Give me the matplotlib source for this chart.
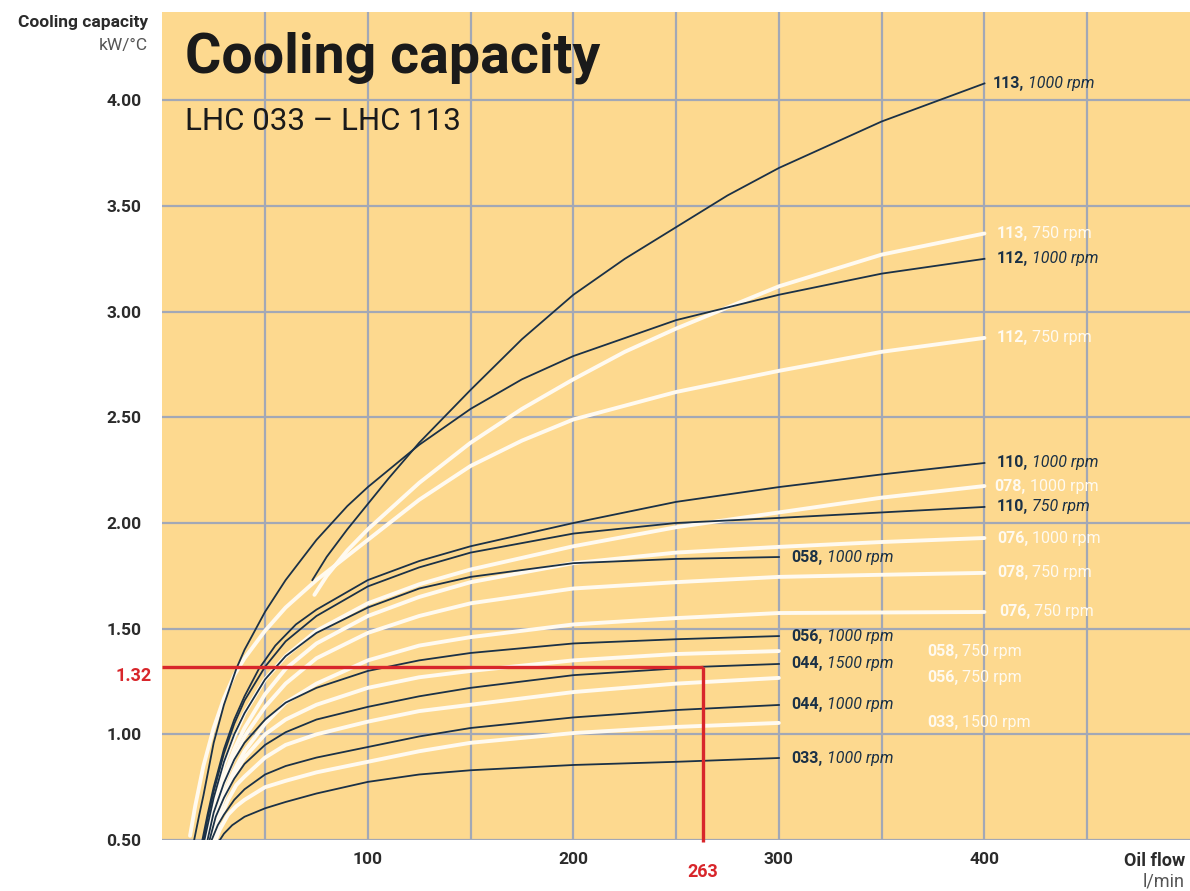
import matplotlib
matplotlib.use("Agg")
import matplotlib.pyplot as plt

plt.rcParams['font.family'] = ['Roboto', 'DejaVu Sans']

# colours
BG = "#fdd98f"
GRID = "#a2a8b6"
NAVY = "#1b3146"
WHITE = "#fffaf0"
RED = "#d8262b"
TXT = "#2b2b2b"

# --- values: oil flow (l/min) -> cooling capacity (kW/°C) ---
lhc113_1000_x = [73, 80, 90, 100, 110, 125, 150, 175, 200, 225, 250, 275, 300, 350, 400]
lhc113_1000_y = [1.73, 1.84, 1.97, 2.09, 2.21, 2.38, 2.63, 2.87, 3.08, 3.25, 3.40, 3.55, 3.68, 3.90, 4.08]

lhc113_750_x = [74, 80, 90, 100, 125, 150, 175, 200, 225, 250, 300, 350, 400]
lhc113_750_y = [1.66, 1.75, 1.87, 1.97, 2.19, 2.38, 2.54, 2.68, 2.81, 2.92, 3.12, 3.27, 3.37]

lhc112_1000_x = [15.5, 18, 20, 25, 30, 36, 40, 50, 60, 75, 90, 100, 125, 150, 175, 200, 250, 300, 350, 400]
lhc112_1000_y = [0.50, 0.62, 0.71, 0.96, 1.14, 1.31, 1.40, 1.58, 1.73, 1.92, 2.08, 2.17, 2.37, 2.54, 2.68, 2.79, 2.96, 3.08, 3.18, 3.25]

lhc112_750_x = [13.5, 16, 20, 25, 30, 35, 40, 50, 60, 75, 100, 125, 150, 175, 200, 250, 300, 350, 400]
lhc112_750_y = [0.52, 0.66, 0.85, 1.03, 1.17, 1.28, 1.36, 1.49, 1.60, 1.73, 1.92, 2.11, 2.27, 2.39, 2.49, 2.62, 2.72, 2.81, 2.876]

lhc110_1000_x = [19.5, 22, 25, 30, 35, 40, 47, 55, 65, 75, 100, 125, 150, 200, 250, 300, 350, 400]
lhc110_1000_y = [0.50, 0.62, 0.75, 0.93, 1.07, 1.18, 1.31, 1.42, 1.52, 1.59, 1.73, 1.82, 1.89, 2.00, 2.10, 2.17, 2.23, 2.284]

lhc110_750_x = [20, 22, 25, 30, 35, 40, 50, 60, 75, 100, 125, 150, 200, 250, 300, 350, 400]
lhc110_750_y = [0.50, 0.60, 0.73, 0.91, 1.05, 1.16, 1.32, 1.44, 1.56, 1.70, 1.79, 1.86, 1.95, 2.00, 2.024, 2.05, 2.076]

lhc078_1000_x = [21, 25, 30, 35, 40, 50, 60, 75, 100, 125, 150, 200, 250, 300, 350, 400]
lhc078_1000_y = [0.50, 0.68, 0.86, 0.99, 1.10, 1.26, 1.37, 1.49, 1.62, 1.71, 1.78, 1.89, 1.98, 2.05, 2.12, 2.175]

lhc058_1000_x = [20.5, 25, 30, 35, 40, 50, 60, 75, 100, 125, 150, 200, 250, 300]
lhc058_1000_y = [0.50, 0.70, 0.87, 1.00, 1.10, 1.26, 1.37, 1.48, 1.60, 1.69, 1.745, 1.81, 1.83, 1.839]

lhc076_1000_x = [22, 25, 30, 35, 40, 50, 60, 75, 100, 125, 150, 200, 250, 300, 350, 400]
lhc076_1000_y = [0.50, 0.63, 0.80, 0.93, 1.03, 1.19, 1.31, 1.43, 1.56, 1.65, 1.72, 1.81, 1.86, 1.887, 1.91, 1.929]

lhc078_750_x = [23, 26, 30, 35, 40, 50, 60, 75, 100, 125, 150, 200, 250, 300, 350, 400]
lhc078_750_y = [0.50, 0.64, 0.77, 0.89, 0.99, 1.13, 1.24, 1.36, 1.48, 1.56, 1.62, 1.69, 1.72, 1.745, 1.755, 1.764]

lhc076_750_x = [24, 27, 30, 35, 40, 50, 60, 75, 100, 125, 150, 200, 250, 300, 400]
lhc076_750_y = [0.50, 0.62, 0.72, 0.83, 0.92, 1.05, 1.15, 1.24, 1.35, 1.42, 1.46, 1.52, 1.55, 1.574, 1.579]

lhc056_1000_x = [22, 25, 30, 35, 40, 50, 60, 75, 100, 125, 150, 200, 250, 300]
lhc056_1000_y = [0.50, 0.63, 0.77, 0.88, 0.96, 1.07, 1.15, 1.22, 1.30, 1.35, 1.385, 1.43, 1.45, 1.465]

lhc058_750_x = [24, 27, 30, 35, 40, 50, 60, 75, 100, 125, 150, 200, 250, 300]
lhc058_750_y = [0.50, 0.61, 0.70, 0.81, 0.89, 1.00, 1.07, 1.14, 1.22, 1.27, 1.30, 1.35, 1.38, 1.394]

lhc044_1500_x = [23, 26, 30, 35, 40, 50, 60, 75, 100, 125, 150, 200, 263, 300]
lhc044_1500_y = [0.50, 0.61, 0.70, 0.79, 0.86, 0.95, 1.01, 1.07, 1.13, 1.18, 1.22, 1.28, 1.32, 1.333]

lhc056_750_x = [25, 28, 32, 36, 40, 50, 60, 75, 100, 125, 150, 200, 250, 300]
lhc056_750_y = [0.50, 0.60, 0.69, 0.76, 0.80, 0.89, 0.95, 1.00, 1.06, 1.11, 1.14, 1.20, 1.24, 1.267]

lhc044_1000_x = [24, 27, 30, 35, 40, 50, 60, 75, 100, 125, 150, 200, 250, 300]
lhc044_1000_y = [0.50, 0.57, 0.62, 0.69, 0.74, 0.81, 0.85, 0.89, 0.94, 0.99, 1.03, 1.08, 1.115, 1.139]

lhc033_1500_x = [26, 28, 32, 36, 40, 50, 60, 75, 100, 125, 150, 200, 250, 300]
lhc033_1500_y = [0.50, 0.55, 0.62, 0.66, 0.69, 0.75, 0.78, 0.82, 0.87, 0.92, 0.96, 1.006, 1.035, 1.054]

lhc033_1000_x = [28, 30, 34, 40, 50, 60, 75, 100, 125, 150, 200, 250, 300]
lhc033_1000_y = [0.50, 0.53, 0.57, 0.61, 0.65, 0.68, 0.72, 0.775, 0.81, 0.83, 0.855, 0.87, 0.888]

# example reading shown in red
example_flow = 263
example_capacity = 1.32

y_ticks = [0.5, 1.0, 1.5, 2.0, 2.5, 3.0, 3.5, 4.0]
x_grid = [50, 100, 150, 200, 250, 300, 350, 400, 450]
x_labels = ["", "100", "", "200", "", "300", "", "400", ""]

# (model, speed, x, y, white?, label x position)
series = [
    ("112", "750 rpm", lhc112_750_x, lhc112_750_y, True, 406),
    ("113", "750 rpm", lhc113_750_x, lhc113_750_y, True, 406),
    ("078", "1000 rpm", lhc078_1000_x, lhc078_1000_y, True, 405),
    ("076", "1000 rpm", lhc076_1000_x, lhc076_1000_y, True, 406),
    ("078", "750 rpm", lhc078_750_x, lhc078_750_y, True, 406),
    ("076", "750 rpm", lhc076_750_x, lhc076_750_y, True, 407),
    ("058", "750 rpm", lhc058_750_x, lhc058_750_y, True, 372),
    ("056", "750 rpm", lhc056_750_x, lhc056_750_y, True, 372),
    ("033", "1500 rpm", lhc033_1500_x, lhc033_1500_y, True, 372),
    ("113", "1000 rpm", lhc113_1000_x, lhc113_1000_y, False, 404),
    ("112", "1000 rpm", lhc112_1000_x, lhc112_1000_y, False, 406),
    ("110", "1000 rpm", lhc110_1000_x, lhc110_1000_y, False, 406),
    ("110", "750 rpm", lhc110_750_x, lhc110_750_y, False, 406),
    ("058", "1000 rpm", lhc058_1000_x, lhc058_1000_y, False, 306),
    ("056", "1000 rpm", lhc056_1000_x, lhc056_1000_y, False, 306),
    ("044", "1500 rpm", lhc044_1500_x, lhc044_1500_y, False, 306),
    ("044", "1000 rpm", lhc044_1000_x, lhc044_1000_y, False, 306),
    ("033", "1000 rpm", lhc033_1000_x, lhc033_1000_y, False, 306),
]

fig = plt.figure(figsize=(11.9, 8.91), dpi=100)
ax = fig.add_axes([162.3 / 1190, 51 / 891, (1190 - 162.3) / 1190, 828 / 891])
ax.set_facecolor(BG)
ax.set_xlim(0, 500)
ax.set_ylim(0.5, 4.418)
for s in ax.spines.values():
    s.set_visible(False)

ax.set_xticks(x_grid)
ax.set_xticklabels(x_labels)
ax.set_yticks(y_ticks)
ax.set_yticklabels([f"{v:.2f}" for v in y_ticks])
ax.tick_params(length=0, labelsize=12.5, labelcolor=TXT)
ax.tick_params(axis="y", pad=15)
ax.tick_params(axis="x", pad=9)
for lab in ax.get_xticklabels() + ax.get_yticklabels():
    lab.set_fontweight("bold")
ax.grid(True, color=GRID, lw=1.6)
ax.set_axisbelow(True)

# curves: white ones first, dark ones on top
for model, speed, xs, ys, white, lx in series:
    if white:
        ax.plot(xs, ys, color=WHITE, lw=2.8, solid_capstyle="round",
                solid_joinstyle="round", zorder=3)
    else:
        ax.plot(xs, ys, color=NAVY, lw=1.3, solid_joinstyle="round", zorder=4)

# curve labels
for model, speed, xs, ys, white, lx in series:
    col = WHITE if white else NAVY
    t1 = ax.text(lx, ys[-1], model + ",", color=col, fontsize=11.5,
                 fontweight="bold", va="center", ha="left", zorder=6)
    ax.annotate(speed, xy=(1, 0), xycoords=t1, xytext=(3, 0),
                textcoords="offset points", va="bottom", ha="left",
                color=col, fontsize=11.5,
                fontstyle="normal" if white else "italic", zorder=6)

# red example reading
ax.plot([0, example_flow], [example_capacity, example_capacity],
        color=RED, lw=2.4, zorder=5, solid_capstyle="butt")
ax.plot([example_flow, example_flow], [example_capacity, 0.49],
        color=RED, lw=2.4, zorder=5, clip_on=False, solid_capstyle="butt")
ax.text(-0.01, example_capacity, f"{example_capacity:.2f}", transform=ax.get_yaxis_transform(),
        color=RED, fontsize=13, fontweight="bold", ha="right", va="top")
ax.text(example_flow, -0.028, str(example_flow), transform=ax.get_xaxis_transform(),
        color=RED, fontsize=13, fontweight="bold", ha="center", va="top")

# titles
fig.text(185 / 1190, 1 - 72 / 891, "Cooling capacity", fontsize=40,
         fontweight="bold", color="#1a1a1a", va="baseline")
fig.text(185 / 1190, 1 - 130 / 891, "LHC 033 \u2013 LHC 113", fontsize=22.5,
         color="#1a1a1a", va="baseline")

# axis captions
fig.text(148 / 1190, 1 - 27 / 891, "Cooling capacity", fontsize=12.5,
         fontweight="bold", color=TXT, ha="right", va="baseline")
fig.text(148 / 1190, 1 - 50 / 891, "kW/\u00b0C", fontsize=12.5,
         color="#555555", ha="right", va="baseline")
fig.text(1185 / 1190, 1 - 866 / 891, "Oil flow", fontsize=13,
         fontweight="bold", color=TXT, ha="right", va="baseline")
fig.text(1185 / 1190, 1 - 887 / 891, "l/min", fontsize=13,
         color="#555555", ha="right", va="baseline")

fig.savefig("out.png", dpi=100, facecolor="white")
